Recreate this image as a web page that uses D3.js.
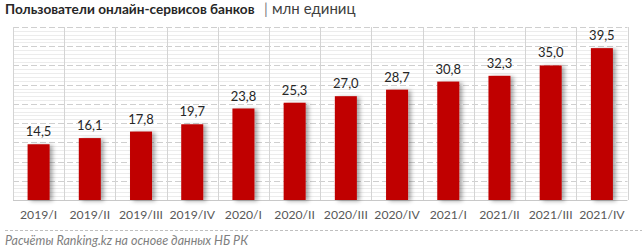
<html>
<head>
<style>
  body { margin: 0; background: #fff; }
  text { font-family: Lato, "Open Sans", sans-serif; }
</style>
</head>
<body>
<div id="chart"></div>
<script src="https://d3js.org/d3.v7.min.js"></script>
<script>
var categories = ["2019/I","2019/II","2019/III","2019/IV","2020/I","2020/II","2020/III","2020/IV","2021/I","2021/II","2021/III","2021/IV"];
var values = [14.5, 16.1, 17.8, 19.7, 23.8, 25.3, 27.0, 28.7, 30.8, 32.3, 35.0, 39.5];
var yMax = 45;
var fmt = function(v){ return d3.format(".1f")(v).replace(".", ","); };

var W = 642, H = 252;
var svg = d3.select("#chart").append("svg").attr("width", W).attr("height", H);

var margin = {top: 27, right: 15, bottom: 52, left: 13};
var x = d3.scaleBand().domain(categories).range([margin.left, 627.5]).paddingInner(0.57).paddingOuter(0.285);
var xCat = d3.scaleBand().domain(categories).range([margin.left, 627.5]);
var y = d3.scaleLinear().domain([0, yMax]).range([200, margin.top]);

var defs = svg.append("defs");
var f = defs.append("filter").attr("id","sh").attr("x","-30%").attr("y","-10%").attr("width","180%").attr("height","120%");
f.append("feDropShadow").attr("dx",3).attr("dy",1).attr("stdDeviation",2).attr("flood-color","#000").attr("flood-opacity",0.35);

// minor grid
svg.append("g").selectAll("line").data(d3.range(1, yMax, 1).filter(function(d){ return d % 5 != 0; }))
  .enter().append("line")
  .attr("x1", margin.left).attr("x2", 627.5)
  .attr("y1", function(d){ return Math.round(y(d)) + 0.5; }).attr("y2", function(d){ return Math.round(y(d)) + 0.5; })
  .attr("stroke", "#ececec").attr("stroke-width", 1);

// major grid
svg.append("g").selectAll("line").data(d3.range(5, yMax + 1, 5))
  .enter().append("line")
  .attr("x1", margin.left).attr("x2", 627.5)
  .attr("y1", function(d){ return Math.round(y(d)) + 0.5; }).attr("y2", function(d){ return Math.round(y(d)) + 0.5; })
  .attr("stroke", "#cfcfcf").attr("stroke-width", 1).attr("stroke-dasharray", "6,3");

// vertical category lines
svg.append("g").selectAll("line").data(categories.concat(["end"]))
  .enter().append("line")
  .attr("x1", function(d,i){ return Math.round(margin.left + i * xCat.bandwidth()) + 0.5; })
  .attr("x2", function(d,i){ return Math.round(margin.left + i * xCat.bandwidth()) + 0.5; })
  .attr("y1", margin.top).attr("y2", 200)
  .attr("stroke", "#d4d4d4");

// bottom axis line
svg.append("line").attr("x1", margin.left).attr("x2", 627.5).attr("y1", 200.5).attr("y2", 200.5).attr("stroke", "#c8c8c8");

// bars
svg.append("g").selectAll("rect").data(values)
  .enter().append("rect")
  .attr("x", function(d,i){ return x(categories[i]); })
  .attr("width", x.bandwidth())
  .attr("y", function(d){ return y(d); })
  .attr("height", function(d){ return 200 - y(d); })
  .attr("fill", "#C00000")
  .attr("filter", "url(#sh)");

// value labels
svg.append("g").selectAll("text").data(values)
  .enter().append("text")
  .attr("x", function(d,i){ return x(categories[i]) + x.bandwidth()/2; })
  .attr("y", function(d){ return y(d) - 8; })
  .attr("text-anchor", "middle")
  .attr("font-size", "13px")
  .attr("fill", "#262626")
  .text(fmt);

// category labels
svg.append("g").selectAll("text").data(categories)
  .enter().append("text")
  .attr("x", function(d){ return xCat(d) + xCat.bandwidth()/2; })
  .attr("y", 219)
  .attr("text-anchor", "middle")
  .attr("font-size", "12.2px")
  .attr("fill", "#595959")
  .text(function(d){ return d; });

// title
svg.append("text").attr("x", 5).attr("y", 14).attr("font-size", "13.6px").attr("font-weight", "bold")
  .attr("fill", "#262626").text("Пользователи онлайн-сервисов банков");
svg.append("text").attr("x", 266).attr("y", 14).attr("font-size", "15px").attr("text-anchor", "middle")
  .attr("fill", "#7f7f7f").text("|");
svg.append("text").attr("x", 272).attr("y", 14).attr("font-size", "15px")
  .attr("fill", "#404040").text("млн единиц");

// separator
svg.append("line").attr("x1", 5).attr("x2", 642).attr("y1", 230.5).attr("y2", 230.5)
  .attr("stroke", "#bfbfbf").attr("stroke-dasharray", "3,2");

// source
svg.append("text").attr("x", 5).attr("y", 245).attr("font-size", "12.5px").attr("font-style", "italic")
  .attr("fill", "#7f7f7f").text("Расчёты Ranking.kz на основе данных НБ РК");
</script>
</body>
</html>
